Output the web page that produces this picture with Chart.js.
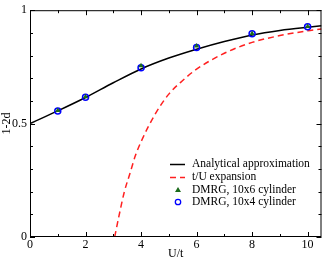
<!DOCTYPE html>
<html>
<head>
<meta charset="utf-8">
<script src="https://cdn.jsdelivr.net/npm/chart.js@4/dist/chart.umd.min.js"></script>
<style>
  html, body { margin: 0; padding: 0; background: #fff; }
  #wrap { width: 327px; height: 261px; }
</style>
</head>
<body>
<div id="wrap"><canvas id="c" width="327" height="261"></canvas></div>
<script>
// ─── Data ────────────────────────────────────────────────────────────────────
const uAnalytic = [0, 1, 2, 3, 4, 5, 6, 7, 8, 9, 10, 10.5];
const analytic  = [0.5, 0.556, 0.615, 0.68, 0.741, 0.789, 0.828, 0.862, 0.891, 0.911, 0.925, 0.931];

const uExpansion = [3.05, 3.2, 3.4, 3.6, 3.8, 4.0, 4.5, 5, 5.5, 6, 7, 8, 9, 10, 10.5];
const expansion  = [0, 0.09, 0.2, 0.28, 0.36, 0.42, 0.54, 0.63, 0.69, 0.74, 0.81, 0.858, 0.888, 0.909, 0.917];

const uDmrg    = [1, 2, 4, 6, 8, 10];
const dmrg10x6 = [0.558, 0.618, 0.755, 0.842, 0.897, 0.928];
const dmrg10x4 = [0.556, 0.616, 0.746, 0.836, 0.896, 0.927];

const xTicks = [0, 2, 4, 6, 8, 10];
const yTicks = [0, 0.5, 1];
const yTickLabels = ['0', '0.5', '1'];

const FONT = 'Liberation Serif';

const pts = (xs, ys) => xs.map((x, i) => ({ x, y: ys[i] }));

// ─── Frame + inward ticks on all four sides ──────────────────────────────────
const framePlugin = {
  id: 'frame',
  afterDraw(chart) {
    const { ctx, chartArea: a, scales: { x, y } } = chart;
    ctx.save();
    ctx.strokeStyle = '#000';
    ctx.lineWidth = 1;
    ctx.strokeRect(a.left + 0.5, a.top + 0.5, a.right - a.left - 1, a.bottom - a.top - 1);
    ctx.beginPath();
    for (let v = 0; v <= 10; v++) {
      const px = Math.round(x.getPixelForValue(v)) + 0.5;
      const len = v % 2 === 0 ? 5 : 3;
      ctx.moveTo(px, a.bottom); ctx.lineTo(px, a.bottom - len);
      ctx.moveTo(px, a.top);    ctx.lineTo(px, a.top + len);
    }
    for (let i = 0; i <= 10; i++) {
      const py = Math.round(y.getPixelForValue(i / 10)) + 0.5;
      const len = i % 5 === 0 ? 5 : 3;
      ctx.moveTo(a.left, py);  ctx.lineTo(a.left + len, py);
      ctx.moveTo(a.right, py); ctx.lineTo(a.right - len, py);
    }
    ctx.stroke();
    ctx.restore();
  },
};

// ─── Legend drawn inside the plot, lower right ───────────────────────────────
const legendPlugin = {
  id: 'inLegend',
  afterDraw(chart) {
    const { ctx } = chart;
    const x0 = 170, tx = 192, rows = [164, 177, 190, 202];
    ctx.save();
    ctx.font = `11.5px "${FONT}"`;
    ctx.fillStyle = '#000';
    ctx.textBaseline = 'middle';
    chart.data.datasets.forEach((ds, i) => {
      const yy = rows[i];
      if (ds.pointRadius === 0) {
        ctx.strokeStyle = ds.borderColor;
        ctx.lineWidth = ds.borderWidth;
        ctx.setLineDash(ds.borderDash || []);
        ctx.beginPath(); ctx.moveTo(x0, yy + 0.5); ctx.lineTo(x0 + 15, yy + 0.5); ctx.stroke();
        ctx.setLineDash([]);
      } else if (ds.pointStyle === 'triangle') {
        ctx.fillStyle = ds.pointBackgroundColor;
        ctx.beginPath(); ctx.moveTo(178, yy - 3); ctx.lineTo(181, yy + 2); ctx.lineTo(175, yy + 2); ctx.closePath(); ctx.fill();
      } else {
        ctx.strokeStyle = ds.pointBorderColor;
        ctx.lineWidth = 1.3;
        ctx.beginPath(); ctx.arc(178, yy, 2.7, 0, Math.PI * 2); ctx.stroke();
      }
      ctx.fillStyle = '#000';
      ctx.fillText(ds.label, tx, yy);
    });
    ctx.restore();
  },
};

new Chart(document.getElementById('c'), {
  type: 'line',
  data: {
    datasets: [
      {
        label: 'Analytical approximation',
        data: pts(uAnalytic, analytic),
        borderColor: '#000',
        borderWidth: 1.5,
        pointRadius: 0,
        cubicInterpolationMode: 'monotone',
        order: 3,
      },
      {
        label: 't/U expansion',
        data: pts(uExpansion, expansion),
        borderColor: '#ff2020',
        borderWidth: 1.5,
        borderDash: [6, 4],
        pointRadius: 0,
        cubicInterpolationMode: 'monotone',
        order: 4,
      },
      {
        label: 'DMRG, 10x6 cylinder',
        data: pts(uDmrg, dmrg10x6),
        showLine: false,
        pointStyle: 'triangle',
        pointRadius: 3,
        pointBackgroundColor: '#1a6b1a',
        pointBorderColor: '#1a6b1a',
        pointBorderWidth: 0,
        order: 1,
      },
      {
        label: 'DMRG, 10x4 cylinder',
        data: pts(uDmrg, dmrg10x4),
        showLine: false,
        pointStyle: 'circle',
        pointRadius: 3,
        pointBackgroundColor: 'rgba(0,0,0,0)',
        pointBorderColor: '#0000ff',
        pointBorderWidth: 1.5,
        order: 2,
      },
    ],
  },
  options: {
    responsive: false,
    animation: false,
    layout: { padding: { top: 5, right: 2, left: 0, bottom: 0 } },
    plugins: { legend: { display: false }, tooltip: { enabled: false } },
    scales: {
      x: {
        type: 'linear',
        min: 0,
        max: 10.5,
        afterFit: (s) => { s.height = 24; },
        afterBuildTicks: (s) => { s.ticks = xTicks.map(v => ({ value: v })); },
        grid: { display: false, drawTicks: false },
        border: { display: false },
        ticks: { color: '#000', font: { family: FONT, size: 12 }, padding: 1, maxRotation: 0 },
        title: { display: true, text: 'U/t', color: '#000', font: { family: FONT, size: 12 }, padding: 0 },
      },
      y: {
        type: 'linear',
        min: 0,
        max: 1,
        afterFit: (s) => { s.width = 30; },
        afterBuildTicks: (s) => { s.ticks = yTicks.map(v => ({ value: v })); },
        grid: { display: false, drawTicks: false },
        border: { display: false },
        ticks: {
          color: '#000',
          font: { family: FONT, size: 12 },
          padding: 3,
          callback: (v, i) => yTickLabels[i],
        },
        title: { display: true, text: '1-2d', color: '#000', font: { family: FONT, size: 12 }, padding: 0 },
      },
    },
  },
  plugins: [framePlugin, legendPlugin],
});
</script>
</body>
</html>
